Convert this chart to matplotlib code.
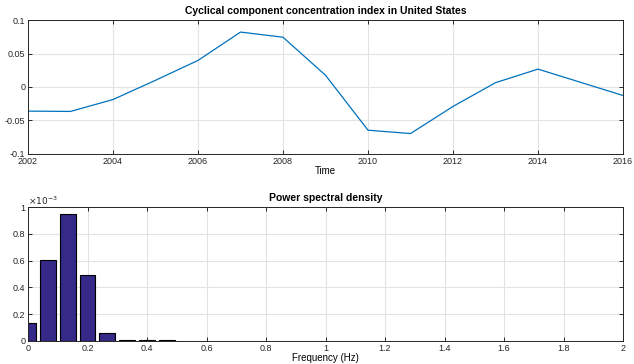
import matplotlib
matplotlib.use("Agg")
import matplotlib.pyplot as plt
import numpy as np

plt.rcParams['font.family'] = ['Liberation Sans', 'DejaVu Sans']

# cyclical component, one value per year
years = [2002, 2003, 2004, 2005, 2006, 2007, 2008, 2009,
         2010, 2011, 2012, 2013, 2014, 2015, 2016]
cycle = [-0.036, -0.0365, -0.0187, 0.010, 0.0397, 0.082, 0.0743, 0.0175,
         -0.0645, -0.0695, -0.029, 0.0065, 0.0267, 0.007, -0.0127]

# power spectral density (bars), frequency k/15
freq = [0.0, 1/15, 2/15, 3/15, 4/15, 5/15, 6/15, 7/15]
psd = [0.000138, 0.000603, 0.000945, 0.000495, 0.000058, 0.000008, 0.000004, 0.000004]

fig = plt.figure(figsize=(6.34, 3.64), dpi=100)
ax1 = fig.add_axes([0.0442, 0.577, 0.9385, 0.368])
ax2 = fig.add_axes([0.0442, 0.0632, 0.9385, 0.368])

def matlab_style(ax):
    ax.grid(True, color='#e3e3e3', linewidth=0.8)
    ax.set_axisbelow(True)
    ax.tick_params(direction='in', top=True, right=True, labelsize=6.5,
                   length=3, width=0.7, colors='#262626', pad=2)
    for s in ax.spines.values():
        s.set_color('#262626')
        s.set_linewidth(0.7)

ax1.plot(years, cycle, color='#0072BD', linewidth=0.9)
ax1.set_xlim(2002, 2016)
ax1.set_ylim(-0.1, 0.1)
ax1.set_xticks([2002, 2004, 2006, 2008, 2010, 2012, 2014, 2016])
ax1.set_yticks([-0.1, -0.05, 0, 0.05, 0.1])
ax1.set_yticklabels(['-0.1', '-0.05', '0', '0.05', '0.1'])
ax1.set_xlabel('Time', fontsize=7, labelpad=0)
ax1.set_title('Cyclical component concentration index in United States',
              fontsize=7.5, fontweight='bold', pad=4)
matlab_style(ax1)

ax2.bar(freq, np.array(psd) * 1e3, width=0.8/15, color='#352a87',
        edgecolor='black', linewidth=0.8)
ax2.set_xlim(0, 2)
ax2.set_ylim(0, 1)
ax2.set_xticks(np.arange(0, 2.01, 0.2))
ax2.set_xticklabels(['0', '0.2', '0.4', '0.6', '0.8', '1', '1.2', '1.4', '1.6', '1.8', '2'])
ax2.set_yticks([0, 0.2, 0.4, 0.6, 0.8, 1])
ax2.set_yticklabels(['0', '0.2', '0.4', '0.6', '0.8', '1'])
ax2.set_xlabel('Frequency (Hz)', fontsize=7, labelpad=0)
ax2.set_title('Power spectral density', fontsize=7.5, fontweight='bold', pad=4)
ax2.text(0.0, 1.0, r'$\times 10^{-3}$', transform=ax2.transAxes,
         fontsize=6.5, color='#262626', ha='left', va='bottom')
matlab_style(ax2)

fig.savefig('out.png', dpi=100)
